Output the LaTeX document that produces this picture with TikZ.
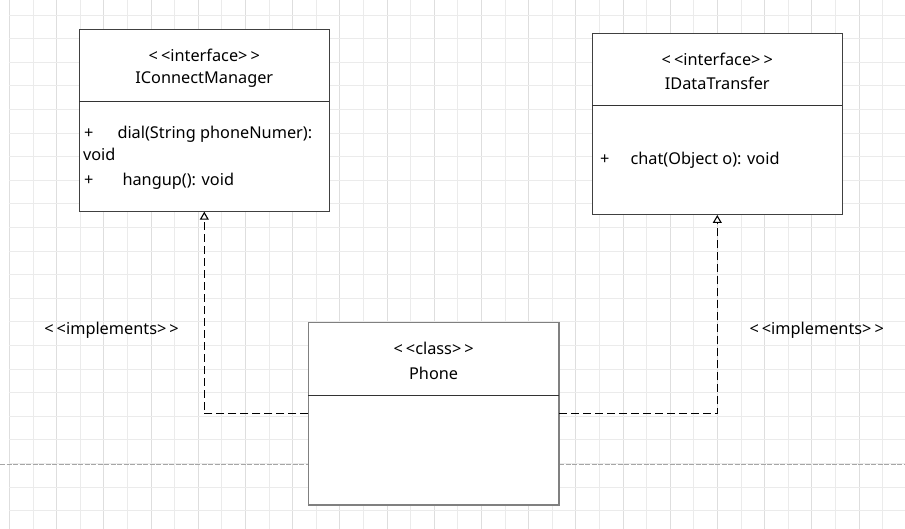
\documentclass[tikz,border=0pt]{standalone}
\usepackage{fontspec}
\setmainfont{Noto Sans}
\usetikzlibrary{arrows.meta}
\newcommand{\ltlt}{<\kern3pt<}
\newcommand{\gtgt}{>\kern3pt>}
\begin{document}
\begin{tikzpicture}[x=1pt,y=-1pt,
  every node/.style={inner sep=0pt, outer sep=0pt, font=\fontsize{16.3}{19}\selectfont},
  gridminor/.style={draw=black!8, line width=0.8pt},
  gridmajor/.style={draw=black!13, line width=0.8pt},
  umlbox/.style={draw=black!75, fill=white, line width=1pt, rectangle},
  phonebox/.style={draw=black!50, fill=white, line width=1.3pt, rectangle},
  divider/.style={draw=black!80, line width=1pt},
  txt/.style={anchor=center},
  attr/.style={anchor=mid west},
  dep/.style={draw=black, line width=1.1pt, dash pattern=on 8pt off 4pt,
    -{Triangle[open, length=8pt, width=9pt, fill=white]}},
  pageline/.style={draw=black!35, line width=1pt, dash pattern=on 5pt off 1.5pt}
]
\useasboundingbox (0,0) rectangle (905,529);
\fill[white] (0,0) rectangle (905,529);
% grid
\foreach \k in {0,...,37}{
  \pgfmathtruncatemacro{\gpar}{mod(\k,2)}
  \ifnum\gpar=0
    \draw[gridmajor] ({9.3+23.6*\k},0) -- ({9.3+23.6*\k},529);
  \else
    \draw[gridminor] ({9.3+23.6*\k},0) -- ({9.3+23.6*\k},529);
  \fi
}
\foreach \j in {0,...,21}{
  \draw[gridminor] (9.3,{15+23.6*\j}) -- (905,{15+23.6*\j});
}
% page break line
\draw[pageline] (0,464) -- (905,464);

% boxes
\node[umlbox, minimum width=250pt, minimum height=181.7pt] (icm) at (204.3,120.85) {};
\node[umlbox, minimum width=250pt, minimum height=181.7pt] (idt) at (717.3,124.15) {};
\node[phonebox, minimum width=250.7pt, minimum height=182.3pt] (phone) at (433.65,413.85) {};

\draw[divider] ([yshift=-72pt]icm.north west) -- ([yshift=-72pt]icm.north east);
\draw[divider] ([yshift=-72.4pt]idt.north west) -- ([yshift=-72.4pt]idt.north east);
\draw[divider] ([yshift=-72.6pt]phone.north west) -- ([yshift=-72.6pt]phone.north east);

% titles
\node[txt] (icmst) at (204.3,55.5) {\ltlt interface\gtgt};
\node[txt] (icmname) at (204.3,80) {IConnectManager};
\node[txt] (idtst) at (717.3,59.5) {\ltlt interface\gtgt};
\node[txt] (idtname) at (717.3,83) {IDataTransfer};
\node[txt] (phst) at (433.65,348.8) {\ltlt class\gtgt};
\node[txt] (phname) at (433.65,373) {Phone};

% attributes
\node[attr] (p1) at (84,135.5) {+};
\node[attr] (dial) at (117.5,135.5) {dial(String phoneNumer):};
\node[attr] (void) at (83,157.5) {void};
\node[attr] (p2) at (84,183) {+};
\node[attr] (hang) at (122.5,183) {hangup(): void};
\node[attr] (p3) at (600,162) {+};
\node[attr] (chat) at (630.5,162) {chat(Object o): void};

% labels
\node[txt] (impl1) at (111.6,330.5) {\ltlt implements\gtgt};
\node[txt] (impl2) at (816.7,330.5) {\ltlt implements\gtgt};

% connectors
\draw[dep] (phone.west) -| (icm.south);
\draw[dep] (phone.east) -| (idt.south);
\end{tikzpicture}
\end{document}
